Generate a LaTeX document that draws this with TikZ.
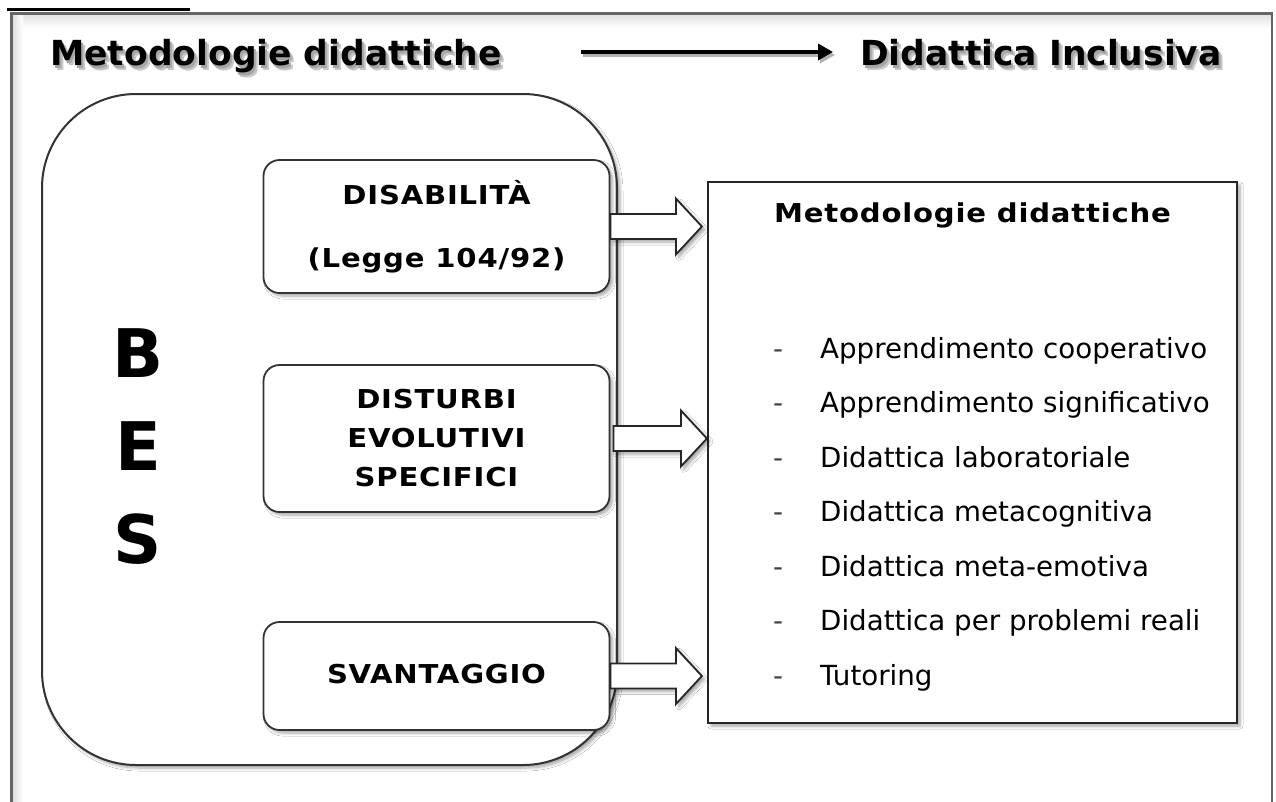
\documentclass[tikz,border=0pt]{standalone}
\usepackage{fontspec}
\setmainfont{DejaVu Sans}
\newfontfamily\boxfont[FakeStretch=1.12,LetterSpace=3]{DejaVu Sans}
\usetikzlibrary{calc,arrows.meta,shadows.blur}
\newcommand\blockarrow[2]{%
  \draw[barrow] let \p1=(#1), \p2=(#2) in
    (\x1,\y2+12.5pt) -- (\x2-26pt,\y2+12.5pt) -- (\x2-26pt,\y2+28pt) -- (\x2,\y2)
    -- (\x2-26pt,\y2-28pt) -- (\x2-26pt,\y2-12.5pt) -- (\x1,\y2-12.5pt) -- cycle;}
\begin{document}
\begin{tikzpicture}[x=1pt,y=-1pt,
  sh/.style={blur shadow={shadow xshift=3pt,shadow yshift=-3pt,shadow blur steps=6,shadow blur radius=3pt,shadow opacity=35}},
  bigbox/.style={draw=black!80,line width=2pt,fill=white,rounded corners=94pt,sh,inner sep=0pt},
  catbox/.style={draw=black!80,line width=1.8pt,fill=white,rounded corners=16pt,minimum width=346pt,
    align=center,font=\boxfont\bfseries\fontsize{26}{31}\selectfont,sh,inner sep=0pt},
  rbox/.style={draw=black!85,line width=2.2pt,fill=white,sh,minimum width=529pt,minimum height=541pt,inner sep=0pt},
  barrow/.style={draw=black!85,line width=1.8pt,fill=white,line join=miter,sh},
  headtext/.style={font=\bfseries\fontsize{34.5}{40}\selectfont,anchor=base west,inner sep=0pt},
  headshadow/.style={headtext,text=black!#1},
  besletter/.style={font=\bfseries\fontsize{67}{70}\selectfont,anchor=base,inner sep=0pt},
  listitem/.style={font=\fontsize{27.7}{33}\selectfont,anchor=base west,inner sep=0pt},
  listdash/.style={listitem,text=black!75},
  boxtitle/.style={font=\boxfont\bfseries\fontsize{26}{31}\selectfont,anchor=base,inner sep=0pt},
  headarrow/.style={line width=3.5pt,shorten <=79pt,shorten >=27pt,-{Triangle[length=15pt,width=16pt]}}
]
\useasboundingbox (0,0) rectangle (1276,801);
\clip (0,0) rectangle (1276,801);
\fill[white] (0,0) rectangle (1276,801);
% outer frame
\shade[top color=black!12,bottom color=white] (13,14) rectangle (1271,28);
\shade[left color=black!12,right color=white] (13,14) rectangle (23,801);
\draw[black!60,line width=2.5pt] (11.5,13.5) rectangle (1272,830);
\draw[black,line width=2.8pt] (7,9.5) -- (190,9.5);
% header
\node[headshadow=22] (h1s2) at (54,70) {Metodologie didattiche};
\node[headshadow=35] (h1s) at (52,68) {Metodologie didattiche};
\node[headtext] (h1) at (50,65) {Metodologie didattiche};
\node[headshadow=22] (h2s2) at (864,70) {Didattica Inclusiva};
\node[headshadow=35] (h2s) at (862,68) {Didattica Inclusiva};
\node[headtext] (h2) at (860,65) {Didattica Inclusiva};
\draw[headarrow,black!30] ([shift={(2,3)}]h1.east |- 0,52) -- ([shift={(2,3)}]h2.west |- 0,52);
\draw[headarrow,black] (h1.east |- 0,52) -- (h2.west |- 0,52);
% BES container
\node[bigbox,minimum width=575pt,minimum height=671pt] (bes) at (329.5,429.5) {};
\node[besletter] (lb) at (138,377) {B};
\node[besletter] (le) at (138,470) {E};
\node[besletter] (ls) at (138,563) {S};
% category boxes
\node[catbox,minimum height=133pt] (dis) at (436.5,226.5) {DISABILITÀ\\[32pt](Legge 104/92)};
\node[catbox,minimum height=147pt] (dist) at (436.5,438.5) {DISTURBI\\[8pt]EVOLUTIVI\\[8pt]SPECIFICI};
\node[catbox,minimum height=108pt] (sva) at (436.5,676) {\raisebox{4pt}{SVANTAGGIO}};
% right box
\node[rbox] (rb) at (972.5,452.5) {};
\node[boxtitle] (rbt) at (972.5,222) {Metodologie didattiche};
\foreach \t [count=\i] in {Apprendimento cooperativo,Apprendimento significativo,Didattica laboratoriale,Didattica metacognitiva,Didattica meta-emotiva,Didattica per problemi reali,Tutoring}{
  \node[listdash] (d\i) at (773,{358+54.5*(\i-1)}) {-};
  \node[listitem] (l\i) at (820,{358+54.5*(\i-1)}) {\t};
}
% block arrows
\blockarrow{dis.east}{$(rb.west |- dis.east)+(-5,0)$}
\blockarrow{$(dist.east)+(3,0)$}{rb.west |- dist.east}
\blockarrow{sva.east}{$(rb.west |- sva.east)+(-5,0)$}
\end{tikzpicture}
\end{document}
